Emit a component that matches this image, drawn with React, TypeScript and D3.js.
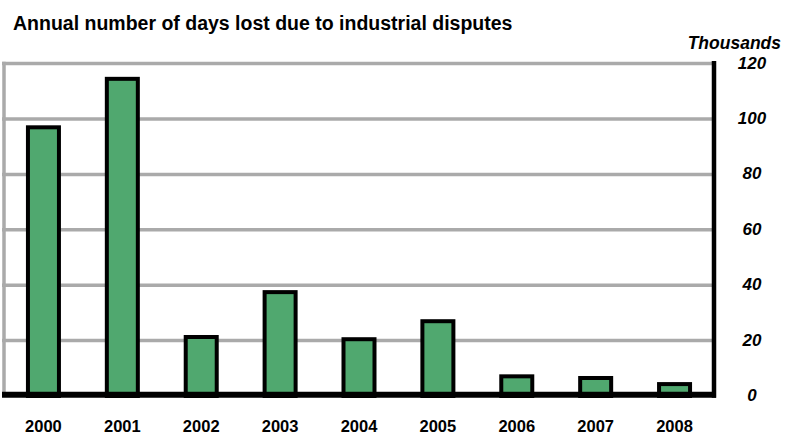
import React from "react";
import * as d3 from "d3";

const years = ["2000", "2001", "2002", "2003", "2004", "2005", "2006", "2007", "2008"];
const daysLost = [97, 114.5, 21.3, 37.5, 20.5, 27, 7.1, 6.5, 4.3];
const tickValues = [0, 20, 40, 60, 80, 100, 120];

const W = 786;
const H = 436;
const FONT = "'Liberation Sans', Arial, Helvetica, sans-serif";

export default function App() {
  const x = d3
    .scaleBand<string>()
    .domain(years)
    .range([4, 714])
    .paddingInner(0.607)
    .paddingOuter(0.3035);
  const y = d3.scaleLinear().domain([0, 120]).range([396, 63.6]);

  return (
    <svg
      width={W}
      height={H}
      style={{ position: "absolute", left: 0, top: 0, background: "#fff" }}
    >
      <text x={13} y={30} fontFamily={FONT} fontWeight="bold" fontSize={19.5} fill="#000">
        Annual number of days lost due to industrial disputes
      </text>
      <text
        x={781}
        y={49}
        textAnchor="end"
        fontFamily={FONT}
        fontWeight="bold"
        fontStyle="italic"
        fontSize={17.5}
        fill="#000"
      >
        Thousands
      </text>
      {tickValues
        .filter((t) => t > 0)
        .map((t) => (
          <line key={"g" + t} x1={2} x2={714} y1={y(t)} y2={y(t)} stroke="#aaaaaa" strokeWidth={3.5} />
        ))}
      <line x1={4} x2={4} y1={y(120) - 1.75} y2={y(0)} stroke="#aaaaaa" strokeWidth={3.5} />
      {years.map((yr, i) => (
        <rect
          key={yr}
          x={x(yr)!}
          y={y(daysLost[i])}
          width={x.bandwidth()}
          height={y(0) - y(daysLost[i])}
          fill="#50a86f"
          stroke="#000"
          strokeWidth={4}
        />
      ))}
      <line x1={2} x2={716} y1={394.7} y2={394.7} stroke="#000" strokeWidth={6} />
      <line x1={714} x2={714} y1={61} y2={397.7} stroke="#000" strokeWidth={4.5} />
      {tickValues.map((t) => (
        <text
          key={"t" + t}
          x={752}
          y={y(t) + 5}
          textAnchor="middle"
          fontFamily={FONT}
          fontWeight="bold"
          fontStyle="italic"
          fontSize={17}
          fill="#000"
        >
          {t}
        </text>
      ))}
      {years.map((yr) => (
        <text
          key={"x" + yr}
          x={x(yr)! + x.bandwidth() / 2}
          y={432}
          textAnchor="middle"
          fontFamily={FONT}
          fontWeight="bold"
          fontSize={16.5}
          fill="#000"
        >
          {yr}
        </text>
      ))}
    </svg>
  );
}
